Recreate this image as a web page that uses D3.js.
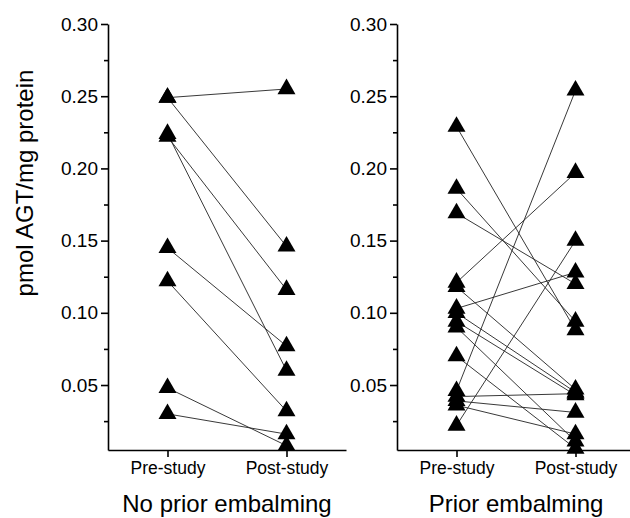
<!DOCTYPE html>
<html>
<head>
<meta charset="utf-8">
<script src="https://cdn.jsdelivr.net/npm/d3@7"></script>
<style>
body { margin:0; background:#fff; }
svg text { font-family: "Liberation Sans", Arial, sans-serif; fill:#000; }
.axis path, .axis line { stroke:#000; stroke-width:1.6; }
.pair { stroke:#222; stroke-width:0.9; fill:none; }
</style>
</head>
<body>
<div class="chart"></div>
<script>
var categories = ["Pre-study", "Post-study"];
var panelTitles = ["No prior embalming", "Prior embalming"];
var yTicks = [0.05, 0.10, 0.15, 0.20, 0.25, 0.30];
var yMinorTicks = [0.025, 0.075, 0.125, 0.175, 0.225, 0.275];

// no prior embalming, one entry per subject
var noPriorPre  = [0.249, 0.249, 0.224, 0.222, 0.145, 0.122, 0.048, 0.030];
var noPriorPost = [0.255, 0.146, 0.060, 0.116, 0.077, 0.032, 0.008, 0.016];

// prior embalming
var priorPre  = [0.229, 0.186, 0.169, 0.121, 0.118, 0.103, 0.100, 0.094, 0.090, 0.070, 0.046, 0.042, 0.039, 0.036, 0.022];
var priorPost = [0.088, 0.094, 0.120, 0.197, 0.047, 0.128, 0.045, 0.043, 0.011, 0.006, 0.254, 0.044, 0.031, 0.016, 0.150];

var width = 630, height = 518;
var plotTop = 24, plotBottom = 450, panelWidth = 238;
var panelLeft = [108, 397];

var svg = d3.select(".chart").append("svg")
    .attr("width", width)
    .attr("height", height);

var y = d3.scaleLinear().domain([0.005, 0.30]).range([plotBottom, plotTop]);

var x = d3.scalePoint().domain(categories).range([0, panelWidth]).padding(0.5);

var tri = d3.symbol().type(d3.symbolTriangle).size(140);

var panels = [
  {pre: noPriorPre, post: noPriorPost, title: panelTitles[0]},
  {pre: priorPre, post: priorPost, title: panelTitles[1]}
];

panels.forEach(function(p, i){
	var g = svg.append("g")
		.attr("transform", "translate(" + panelLeft[i] + ",0)");

	// minor ticks first
	g.append("g")
		.attr("class", "axis")
		.call(d3.axisLeft(y).tickValues(yMinorTicks).tickSize(4).tickFormat(""))
		.select(".domain").remove();

	var yAxis = g.append("g")
		.attr("class", "axis")
		.call(d3.axisLeft(y).tickValues(yTicks).tickSize(7).tickSizeOuter(0).tickPadding(3).tickFormat(d3.format(".2f")));
	yAxis.selectAll("text").style("font-size", "19px");

	var xAxis = g.append("g")
		.attr("class", "axis")
		.attr("transform", "translate(0," + plotBottom + ")")
		.call(d3.axisBottom(x).tickSize(7).tickSizeOuter(0).tickPadding(5));
	xAxis.selectAll("text").style("font-size", "17.5px");

	var pairs = p.pre.map(function(v, k){ return {pre: v, post: p.post[k]}; });

	g.append("g").selectAll("line")
		.data(pairs)
		.enter().append("line")
		.attr("class", "pair")
		.attr("x1", x(categories[0]))
		.attr("x2", x(categories[1]))
		.attr("y1", d => y(d.pre))
		.attr("y2", d => y(d.post));

	var pts = [];
	pairs.forEach(function(d){
		pts.push({cat: categories[0], v: d.pre});
		pts.push({cat: categories[1], v: d.post});
	});

	g.append("g").selectAll("path")
		.data(pts)
		.enter().append("path")
		.attr("d", tri)
		.attr("fill", "#000")
		.attr("transform", d => "translate(" + x(d.cat) + "," + y(d.v) + ")");

	g.append("text")
		.attr("x", (x(categories[0]) + x(categories[1])) / 2)
		.attr("y", 512)
		.attr("text-anchor", "middle")
		.style("font-size", "24px")
		.text(p.title);
});

svg.append("text")
	.attr("transform", "translate(33,183) rotate(-90)")
	.attr("text-anchor", "middle")
	.style("font-size", "24px")
	.text("pmol AGT/mg protein");
</script>
</body>
</html>
